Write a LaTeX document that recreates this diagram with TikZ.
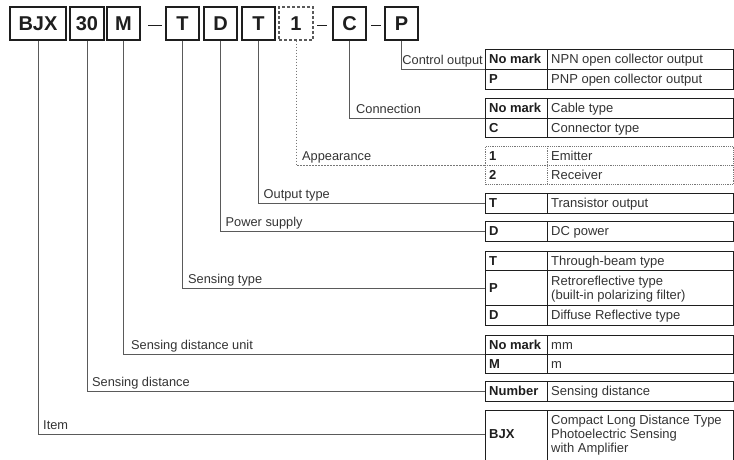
\documentclass[tikz,border=0pt]{standalone}
\usepackage{fontspec}
\setmainfont{Liberation Sans}
\definecolor{ink}{HTML}{1E1E1E}
\definecolor{txt}{HTML}{333333}
\definecolor{wire}{HTML}{5A5A5A}
\definecolor{dots}{HTML}{777777}
\begin{document}
\begin{tikzpicture}[x=1pt,y=-1pt,
  hbox/.style={draw=ink, line width=1.4pt, minimum height=33pt, inner sep=0pt,
    text height=14.3pt, text depth=0pt, font=\fontsize{20}{20}\selectfont\bfseries, text=ink},
  hboxd/.style={hbox, draw=wire, line width=1.1pt, dash pattern=on 3pt off 2pt},
  tbl/.style={draw=ink, line width=0.9pt, inner sep=0pt, anchor=north west, minimum width=248pt},
  tbld/.style={tbl, draw=dots, line width=0.8pt, dash pattern=on 1.2pt off 1pt},
  tline/.style={draw=ink, line width=0.9pt},
  tlined/.style={draw=dots, line width=0.8pt, dash pattern=on 1.2pt off 1pt},
  kc/.style={anchor=west, inner sep=0pt, text height=9.3pt, text depth=0pt,
    font=\fontsize{13}{14}\selectfont\bfseries, text=ink},
  vc/.style={anchor=west, inner sep=0pt, text height=9.3pt, text depth=0pt,
    font=\fontsize{13}{14}\selectfont, text=txt},
  vcm/.style={anchor=west, inner sep=0pt, align=left,
    font=\fontsize{13}{14}\selectfont, text=txt},
  lbl/.style={anchor=base west, inner sep=0pt, font=\fontsize{12.8}{14}\selectfont, text=txt},
  conn/.style={draw=wire, line width=0.9pt},
  connd/.style={draw=dots, line width=0.8pt, dash pattern=on 1.5pt off 1.5pt},
  dashl/.style={draw=ink, line width=0.9pt},
]
\useasboundingbox (0,0) rectangle (734,459);

% ---------- header code boxes ----------
\node[hbox, minimum width=56pt] (hBJX) at (38,23.5) {BJX};
\node[hbox, minimum width=34pt] (h30) at (87,23.5) {30};
\node[hbox, minimum width=33pt] (hM) at (123.5,23.5) {M};
\draw[dashl] (148,25) -- (162,25);
\node[hbox, minimum width=33pt] (hT1) at (182.5,23.5) {T};
\node[hbox, minimum width=33pt] (hD) at (220.5,23.5) {D};
\node[hbox, minimum width=33pt] (hT2) at (258.5,23.5) {T};
\node[hboxd, minimum width=34pt] (h1) at (296,23.5) {1};
\draw[dashl] (317,25) -- (327,25);
\node[hbox, minimum width=33pt] (hC) at (349.5,23.5) {C};
\draw[dashl] (371,25) -- (381,25);
\node[hbox, minimum width=33pt] (hP) at (401.5,23.5) {P};

% ---------- tables ----------
% Control output
\node[tbl, minimum height=39.5pt] (tCtl) at (485,49) {};
\draw[tline] (547,49) -- (547,88.5);
\draw[tline] (485,69) -- (733,69);
\node[kc] at (489,59) {No mark};
\node[vc] at (551,59) {NPN open collector output};
\node[kc] at (489,78.5) {P};
\node[vc] at (551,78.5) {PNP open collector output};

% Connection
\node[tbl, minimum height=39pt] (tCon) at (485,98) {};
\draw[tline] (547,98) -- (547,137);
\draw[tline] (485,118) -- (733,118);
\node[kc] at (489,108) {No mark};
\node[vc] at (551,108) {Cable type};
\node[kc] at (489,127.5) {C};
\node[vc] at (551,127.5) {Connector type};

% Appearance (dotted)
\node[tbld, minimum height=38pt] (tApp) at (485,146) {};
\draw[tlined] (547,146) -- (547,184);
\draw[tlined] (485,165) -- (733,165);
\node[kc] at (489,155.5) {1};
\node[vc] at (551,155.5) {Emitter};
\node[kc] at (489,174.5) {2};
\node[vc] at (551,174.5) {Receiver};

% Output type
\node[tbl, minimum height=20pt] (tOut) at (485,193) {};
\draw[tline] (547,193) -- (547,213);
\node[kc] at (489,203) {T};
\node[vc] at (551,203) {Transistor output};

% Power supply
\node[tbl, minimum height=19.5pt] (tPow) at (485,221) {};
\draw[tline] (547,221) -- (547,240.5);
\node[kc] at (489,230.5) {D};
\node[vc] at (551,230.5) {DC power};

% Sensing type
\node[tbl, minimum height=74pt] (tSen) at (485,251) {};
\draw[tline] (547,251) -- (547,325);
\draw[tline] (485,270) -- (733,270);
\draw[tline] (485,305) -- (733,305);
\node[kc] at (489,260.5) {T};
\node[vc] at (551,260.5) {Through-beam type};
\node[kc] at (489,287.5) {P};
\node[vcm] at (551,289) {Retroreflective type\\(built-in polarizing filter)};
\node[kc] at (489,315) {D};
\node[vc] at (551,315) {Diffuse Reflective type};

% Sensing distance unit
\node[tbl, minimum height=38pt] (tUnit) at (485,335) {};
\draw[tline] (547,335) -- (547,373);
\draw[tline] (485,354) -- (733,354);
\node[kc] at (489,344.5) {No mark};
\node[vc] at (551,344.5) {mm};
\node[kc] at (489,363.5) {M};
\node[vc] at (551,363.5) {m};

% Sensing distance
\node[tbl, minimum height=19.5pt] (tNum) at (485,381) {};
\draw[tline] (547,381) -- (547,400.5);
\node[kc] at (489,390.5) {Number};
\node[vc] at (551,390.5) {Sensing distance};

% Item (table runs off the bottom edge)
\node[inner sep=0pt, anchor=north west, minimum width=248pt, minimum height=48pt] (tItem) at (485,410) {};
\draw[tline] (485,463) |- (733,410) -- (733,463);
\draw[tline] (547,410) -- (547,463);
\node[kc] at (489,434) {BJX};
\node[vcm] at (551,435.3) {Compact Long Distance Type\\Photoelectric Sensing\\with Amplifier};

% ---------- connectors ----------
\draw[conn] (hP.south) |- (tCtl.west);
\draw[conn] (hC.south) |- (tCon.west);
\draw[connd] (h1.south) |- (tApp.west);
\draw[conn] (hT2.south) |- (tOut.west);
\draw[conn] (hD.south) |- (tPow.west);
\draw[conn] (hT1.south) |- (tSen.west);
\draw[conn] (hM.south) |- (tUnit.west);
\draw[conn] (h30.south) |- (tNum.west);
\draw[conn] (hBJX.south) |- (tItem.west);

% ---------- labels ----------
\node[lbl, anchor=base east] (lCtl) at (483,64) {Control output};
\node[lbl] (lCon) at (356,113.5) {Connection};
\node[lbl] (lApp) at (302,160.5) {Appearance};
\node[lbl] (lOut) at (263.5,198.5) {Output type};
\node[lbl] (lPow) at (225.5,226) {Power supply};
\node[lbl] (lSen) at (188,283.5) {Sensing type};
\node[lbl] (lUnit) at (131,349.5) {Sensing distance unit};
\node[lbl] (lNum) at (92,386) {Sensing distance};
\node[lbl] (lItem) at (43,429.5) {Item};
\end{tikzpicture}
\end{document}
